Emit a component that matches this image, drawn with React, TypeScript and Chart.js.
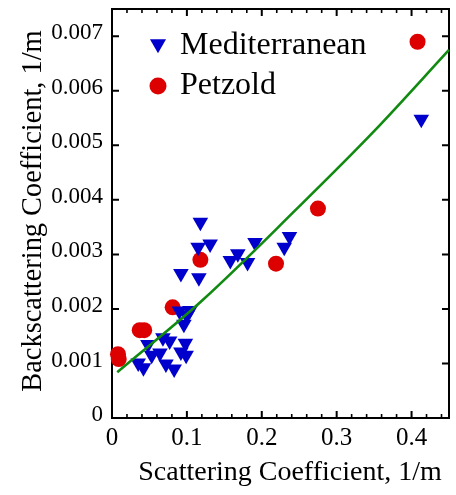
import React, { useEffect, useRef } from 'react';
import { Chart, registerables } from 'chart.js';

Chart.register(...registerables);

// Mediterranean samples (blue down-triangles)
const mediterraneanX = [
  0.413, 0.118, 0.115, 0.131, 0.092, 0.116, 0.158, 0.168, 0.181, 0.191,
  0.230, 0.237, 0.090, 0.104, 0.100, 0.096, 0.098, 0.092, 0.099, 0.068,
  0.077, 0.048, 0.064, 0.053, 0.035, 0.042, 0.072, 0.083,
];
const mediterraneanY = [
  0.00548, 0.00359, 0.00313, 0.00319, 0.00265, 0.00257, 0.00289, 0.00301, 0.00285, 0.00322,
  0.00313, 0.00333, 0.00196, 0.00197, 0.00188, 0.00172, 0.00137, 0.00121, 0.00115, 0.00147,
  0.00141, 0.00135, 0.00119, 0.00115, 0.00101, 0.00092, 0.00099, 0.00090,
];

// Petzold samples (red circles)
const petzoldX = [0.408, 0.275, 0.219, 0.118, 0.081, 0.043, 0.037, 0.008, 0.009];
const petzoldY = [0.0069, 0.00384, 0.00283, 0.0029, 0.00203, 0.00161, 0.00161, 0.00117, 0.00108];

// Fitted curve (green)
const fitX = [0.007, 0.12, 0.25, 0.35, 0.45];
const fitY = [0.00084, 0.00215, 0.00388, 0.00526, 0.00675];

const xTickLabels = ['0', '0.1', '0.2', '0.3', '0.4'];
const yTickLabels = ['0', '0.001', '0.002', '0.003', '0.004', '0.005', '0.006', '0.007'];
const xMajorTicks = [0, 0.1, 0.2, 0.3, 0.4];
const yMajorTicks = [0.001, 0.002, 0.003, 0.004, 0.005, 0.006, 0.007];
const legendLabels = ['Mediterranean', 'Petzold'];
const xTitle = 'Scattering Coefficient, 1/m';
const yTitle = 'Backscattering Coefficient, 1/m';

const SERIF = '"Liberation Serif", "Times New Roman", Times, serif';
const BLUE = '#0000cc';
const RED = '#dd0000';
const GREEN = '#118a11';

const framePlugin = {
  id: 'frameTicks',
  beforeDatasetsDraw(chart: any) {
    const { ctx, chartArea, scales } = chart;
    const { left, right, top, bottom } = chartArea;
    const x = scales.x;
    const y = scales.y;
    ctx.save();
    ctx.strokeStyle = '#000';
    ctx.lineWidth = 2;
    ctx.beginPath();
    ctx.rect(left, top, right - left, bottom - top);
    ctx.stroke();
    for (let i = 0; i <= 22; i++) {
      const v = i * 0.02;
      const major = xMajorTicks.some((m) => Math.abs(m - v) < 1e-9);
      const len = major ? 7 : 4;
      const px = x.getPixelForValue(v);
      ctx.lineWidth = major ? 2 : 1.6;
      ctx.beginPath();
      ctx.moveTo(px, bottom);
      ctx.lineTo(px, bottom - len);
      ctx.moveTo(px, top);
      ctx.lineTo(px, top + len);
      ctx.stroke();
    }
    ctx.lineWidth = 2;
    yMajorTicks.forEach((v) => {
      const py = y.getPixelForValue(v);
      ctx.beginPath();
      ctx.moveTo(left, py);
      ctx.lineTo(left + 7, py);
      ctx.moveTo(right, py);
      ctx.lineTo(right - 7, py);
      ctx.stroke();
    });
    ctx.restore();
  },
};

const titlesAndLegendPlugin = {
  id: 'titlesLegend',
  afterDraw(chart: any) {
    const { ctx, chartArea } = chart;
    ctx.save();
    // axis titles
    ctx.fillStyle = '#000';
    ctx.font = `28px ${SERIF}`;
    ctx.textAlign = 'center';
    ctx.textBaseline = 'alphabetic';
    ctx.fillText(xTitle, chartArea.left + 178, chartArea.bottom + 62);
    ctx.save();
    ctx.translate(41, chartArea.top + 202);
    ctx.rotate(-Math.PI / 2);
    ctx.font = `28.4px ${SERIF}`;
    ctx.fillText(yTitle, 0, 0);
    ctx.restore();

    // legend inside the plot
    const mx = chartArea.left + 46;
    const tx = chartArea.left + 68;
    const cy1 = chartArea.top + 35;
    const r = 9.3;
    ctx.fillStyle = BLUE;
    ctx.beginPath();
    ctx.moveTo(mx, cy1 + r);
    ctx.lineTo(mx - 0.866 * r, cy1 - 0.5 * r);
    ctx.lineTo(mx + 0.866 * r, cy1 - 0.5 * r);
    ctx.closePath();
    ctx.fill();
    const cy2 = chartArea.top + 77;
    ctx.fillStyle = RED;
    ctx.beginPath();
    ctx.arc(mx, cy2, 8.5, 0, Math.PI * 2);
    ctx.fill();
    ctx.fillStyle = '#000';
    ctx.font = `32px ${SERIF}`;
    ctx.textAlign = 'left';
    ctx.fillText(legendLabels[0], tx, chartArea.top + 45);
    ctx.fillText(legendLabels[1], tx, chartArea.top + 85);
    ctx.restore();
  },
};

export default function App() {
  const ref = useRef<HTMLCanvasElement>(null);

  useEffect(() => {
    document.body.style.margin = '0';
    const canvas = ref.current;
    if (!canvas) return;
    const chart = new Chart(canvas, {
      type: 'scatter',
      data: {
        datasets: [
          {
            label: 'Fit',
            data: fitX.map((x, i) => ({ x, y: fitY[i] })),
            showLine: true,
            borderColor: GREEN,
            borderWidth: 2.6,
            pointRadius: 0,
            tension: 0.35,
            clip: false,
            order: 0,
          } as any,
          {
            label: legendLabels[0],
            data: mediterraneanX.map((x, i) => ({ x, y: mediterraneanY[i] })),
            pointStyle: 'triangle',
            rotation: 180,
            pointRadius: 9,
            backgroundColor: BLUE,
            borderColor: BLUE,
            borderWidth: 0,
            clip: false,
            order: 1,
          } as any,
          {
            label: legendLabels[1],
            data: petzoldX.map((x, i) => ({ x, y: petzoldY[i] })),
            pointStyle: 'circle',
            pointRadius: 8,
            backgroundColor: RED,
            borderColor: RED,
            borderWidth: 0,
            clip: false,
            order: 2,
          } as any,
        ],
      },
      options: {
        responsive: false,
        animation: false,
        devicePixelRatio: 1,
        layout: { padding: { top: 8, right: 1, left: 0, bottom: 0 } },
        plugins: { legend: { display: false }, tooltip: { enabled: false } },
        scales: {
          x: {
            type: 'linear',
            min: 0,
            max: 0.45,
            grid: { display: false, drawTicks: false },
            border: { display: false },
            ticks: {
              stepSize: 0.1,
              includeBounds: false,
              autoSkip: false,
              maxRotation: 0,
              padding: 5,
              color: '#000',
              font: { family: SERIF, size: 25 },
              callback: (_v: any, i: number) => xTickLabels[i] ?? '',
            },
            title: { display: false },
            afterFit: (s: any) => {
              s.height = 77;
              s.paddingLeft = 0;
              s.paddingRight = 0;
            },
          },
          y: {
            type: 'linear',
            min: 0,
            max: 0.0075,
            grid: { display: false, drawTicks: false },
            border: { display: false },
            ticks: {
              stepSize: 0.001,
              includeBounds: false,
              autoSkip: false,
              padding: 9,
              labelOffset: -3,
              color: '#000',
              font: { family: SERIF, size: 23 },
              callback: (_v: any, i: number) => yTickLabels[i] ?? '',
            },
            title: { display: false },
            afterFit: (s: any) => {
              s.width = 112;
              s.paddingTop = 0;
              s.paddingBottom = 0;
            },
          },
        },
      } as any,
      plugins: [framePlugin, titlesAndLegendPlugin],
    });
    return () => chart.destroy();
  }, []);

  return (
    <div style={{ position: 'absolute', left: 0, top: 0, width: 456, height: 495, overflow: 'hidden' }}>
      <canvas ref={ref} width={458} height={495} style={{ display: 'block', width: 458, height: 495 }} />
    </div>
  );
}
